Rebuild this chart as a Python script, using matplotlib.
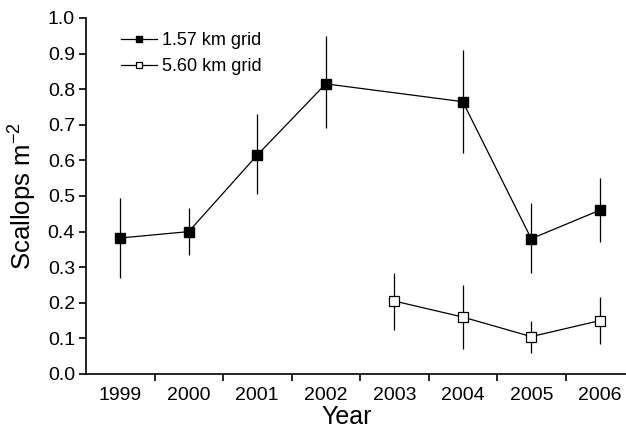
import matplotlib
import numpy as np

matplotlib.use("Agg")
import matplotlib.pyplot as plt  # noqa: E402

plt.rcParams["font.family"] = ["Liberation Sans", "DejaVu Sans"]
plt.rcParams["mathtext.fontset"] = "custom"
plt.rcParams["mathtext.rm"] = "Liberation Sans"
plt.rcParams["mathtext.default"] = "regular"

years = ["1999", "2000", "2001", "2002", "2003", "2004", "2005", "2006"]

# 1.57 km grid (no 2003 survey)
fine_years = ["1999", "2000", "2001", "2002", "2004", "2005", "2006"]
fine_mean = [0.382, 0.400, 0.615, 0.815, 0.765, 0.380, 0.460]
fine_lo = [0.270, 0.335, 0.505, 0.690, 0.620, 0.285, 0.370]
fine_hi = [0.495, 0.465, 0.730, 0.950, 0.910, 0.480, 0.550]

# 5.60 km grid
coarse_years = ["2003", "2004", "2005", "2006"]
coarse_mean = [0.205, 0.160, 0.105, 0.150]
coarse_lo = [0.125, 0.070, 0.060, 0.085]
coarse_hi = [0.285, 0.250, 0.150, 0.215]

fig = plt.figure(figsize=(6.26, 4.30), dpi=100)
ax = fig.add_axes([86 / 626, 56 / 430, 548 / 626, 356 / 430])

xf = np.array([years.index(y) for y in fine_years])
xc = np.array([years.index(y) for y in coarse_years])
fm, cm = np.array(fine_mean), np.array(coarse_mean)

ax.errorbar(xf, fm, yerr=[fm - fine_lo, np.array(fine_hi) - fm], fmt="s-",
            color="black", mfc="black", mec="black", ms=6.5, lw=0.9,
            elinewidth=0.9, capsize=0, label="1.57 km grid")
ax.errorbar(xc, cm, yerr=[cm - coarse_lo, np.array(coarse_hi) - cm], fmt="s-",
            color="black", mfc="white", mec="black", mew=0.9, ms=6.5, lw=0.9,
            elinewidth=0.9, capsize=0, label="5.60 km grid")

ax.set_xlim(-0.5, len(years) - 0.5)
ax.set_ylim(0, 1.0)
ax.set_yticks(np.arange(0, 1.01, 0.1))
ax.set_yticklabels([f"{v:.1f}" for v in np.arange(0, 1.01, 0.1)])
ax.set_xticks(np.arange(len(years) - 1) + 0.5)
ax.set_xticklabels([])
ax.set_xticks(np.arange(len(years)), minor=True)
ax.set_xticklabels(years, minor=True)
ax.tick_params(axis="x", which="minor", length=0, labelsize=14, pad=9)
ax.tick_params(axis="x", which="major", direction="out", length=5, width=1.2)
ax.tick_params(axis="y", direction="out", length=5, width=1.2, labelsize=14, pad=3)

for s in ("top", "right"):
    ax.spines[s].set_visible(False)
for s in ("left", "bottom"):
    ax.spines[s].set_linewidth(1.2)

ax.set_xlabel("Year", fontsize=18, va="bottom")
ax.xaxis.set_label_coords((347 - 86) / 548, -55.5 / 356)
ax.set_ylabel("Scallops m$^{-2}$", fontsize=18.5, labelpad=6)

handles, labels = ax.get_legend_handles_labels()
handles = [h[0] for h in handles]
ax.legend(handles, labels, loc="upper left", bbox_to_anchor=(0.04, 0.995),
          frameon=False, fontsize=13, handlelength=2.0, handletextpad=0.3,
          labelspacing=0.5, borderaxespad=0.3, markerscale=0.75)

fig.savefig("out.png", dpi=100)
